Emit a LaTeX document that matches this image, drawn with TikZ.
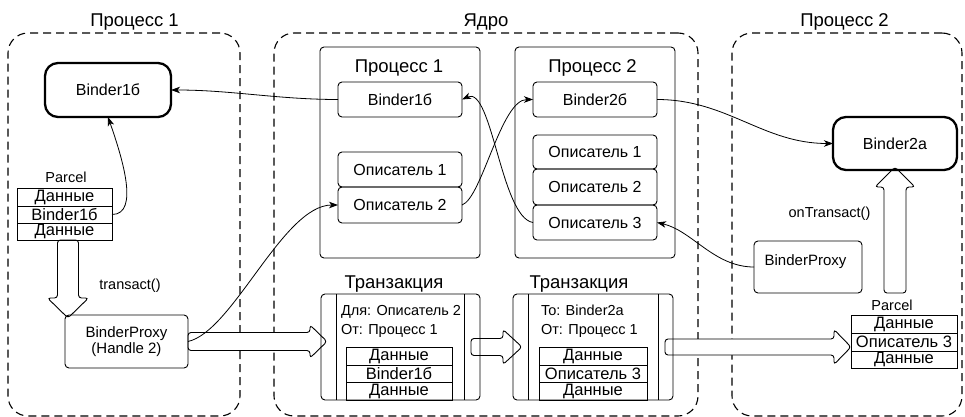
\documentclass[tikz,border=0pt]{standalone}
\usepackage{fontspec}
\setmainfont{Liberation Sans}
\usetikzlibrary{arrows.meta,calc}
\newcommand\fsz[1]{\fontsize{#1}{#1}\selectfont}
% hollow block arrow: from, to, half shaft, half head, head length
\newcommand\hollowarrow[5]{%
  \draw[harrow] let \p1=(#1), \p2=(#2),
    \n1={veclen(\x2-\x1,\y2-\y1)},
    \n2={(\x2-\x1)/veclen(\x2-\x1,\y2-\y1)},
    \n3={(\y2-\y1)/veclen(\x2-\x1,\y2-\y1)} in
    ({\x1+#3*\n3},{\y1-#3*\n2}) --
    ({\x1+(\n1-#5)*\n2+#3*\n3},{\y1+(\n1-#5)*\n3-#3*\n2}) --
    ({\x1+(\n1-#5)*\n2+#4*\n3},{\y1+(\n1-#5)*\n3-#4*\n2}) --
    (\x2,\y2) --
    ({\x1+(\n1-#5)*\n2-#4*\n3},{\y1+(\n1-#5)*\n3+#4*\n2}) --
    ({\x1+(\n1-#5)*\n2-#3*\n3},{\y1+(\n1-#5)*\n3+#3*\n2}) --
    ({\x1-#3*\n3},{\y1+#3*\n2}) -- cycle;}
\begin{document}
\begin{tikzpicture}[x=1pt,y=-1pt,
  every node/.style={inner sep=0pt, outer sep=0pt},
  title/.style={font=\fsz{18.5}, anchor=base},
  lbl/.style={font=\fsz{14.5}, anchor=base},
  dashbox/.style={draw, dash pattern=on 8pt off 5pt, line width=1.1pt, rounded corners=20pt},
  pbox/.style={draw, line width=0.9pt, rounded corners=4pt},
  ibox/.style={draw, line width=0.9pt, rounded corners=4pt, minimum width=124pt, font=\fsz{16}},
  thickbox/.style={draw, line width=2.3pt, rounded corners=13pt, font=\fsz{16}},
  proxy/.style={draw, line width=0.9pt, rounded corners=4pt, font=\fsz{15}, align=center},
  cell/.style={draw, line width=0.9pt, font=\fsz{16.5}},
  harrow/.style={draw, fill=white, line width=0.9pt, rounded corners=3pt},
  conn/.style={line width=0.8pt, -{Stealth[length=9pt,width=6.5pt,inset=2.5pt]}}
]
\useasboundingbox (0,0) rectangle (965,417);

% containers
\node[dashbox, minimum width=232pt, minimum height=383pt] (P1) at (124,224.5) {};
\node[dashbox, minimum width=424pt, minimum height=383pt] (K) at (486,224.5) {};
\node[dashbox, minimum width=230pt, minimum height=383pt] (P2) at (847,224.5) {};
\node[title] (tp1) at (134.5,27) {Процесс 1};
\node[title] (tk) at (486,27) {Ядро};
\node[title] (tp2) at (844.5,27) {Процесс 2};

% positions needed by the block arrows
\node[minimum width=123pt, minimum height=53pt] (bp1) at (126.5,341.5) {};
\node[minimum width=159pt, minimum height=106pt] (T1) at (400.5,347) {};
\node[minimum width=160pt, minimum height=106pt] (T2) at (593,347) {};
\node[minimum width=124pt, minimum height=53pt] (pb2) at (895,143.5) {};
\node[proxy, minimum width=108pt, minimum height=52pt] (bp2) at (808,267) {};
\node[cell, minimum width=95pt, minimum height=18pt] (pc1a) at (64.5,197) {Данные};
\node[cell, minimum width=95pt, minimum height=17pt] (pc1b) at (64.5,214.5) {Binder1б};
\node[minimum width=95pt, minimum height=17pt] (pc1c) at (64.5,231.5) {};
\node[cell, minimum width=106pt, minimum height=18pt] (pc2a) at (904,324) {Данные};
\node[minimum width=106pt, minimum height=18pt] (pc2b) at (904,342) {};
\node[cell, minimum width=106pt, minimum height=17pt] (pc2c) at (904,359.5) {Данные};

\coordinate (dtip) at ($(bp1.north west)+(3,3)$);
\coordinate (dtail) at (pc1c.south -| dtip);
\coordinate (a1tip) at ($(T1.west |- bp1.east)+(6,0)$);
\coordinate (a2tail) at ($(T1.east)+(-9,0)$);
\coordinate (a2tip) at ($(T2.west)+(9,0)$);
\coordinate (a3tail) at ($(T2.east)+(-8,0)$);
\coordinate (a3tip) at (pc2b.west |- T2.east);
\coordinate (utip) at ($(pb2.south)+(0,-3)$);
\coordinate (utail) at (utip |- bp2.south);

% block arrows
\hollowarrow{dtail}{dtip}{10.5}{20.5}{20}
\hollowarrow{bp1.east}{a1tip}{9}{16.5}{17}
\hollowarrow{a2tail}{a2tip}{8.5}{17.5}{19}
\hollowarrow{a3tail}{a3tip}{8}{17.5}{17}
\hollowarrow{utail}{utip}{11}{20}{20}

% boxes drawn over the arrows
\node[proxy, minimum width=123pt, minimum height=53pt] (bp1b) at (bp1) {BinderProxy\\[1pt](Handle 2)};
\node[thickbox, minimum width=124pt, minimum height=53pt] (pb2b) at (pb2) {Binder2a};
\node[cell, minimum width=95pt, minimum height=17pt] (pc1cb) at (pc1c) {Данные};
\node[cell, minimum width=106pt, minimum height=18pt] (pc2bb) at (pc2b) {Описатель 3};

% left process
\node[thickbox, minimum width=126pt, minimum height=54pt] (pb1) at (108,90) {Binder1б};
\node[lbl] (parcel1) at (66,182) {Parcel};
\node[lbl] (tr) at (130,289) {transact()};

% right process
\node[lbl] (parcel2) at (892,310) {Parcel};
\node[lbl] (ontr) at (829.5,217) {onTransact()};
\node[font=\fsz{15}, anchor=base] (bp2t) at (805.5,265) {BinderProxy};

% kernel processes
\node[pbox, minimum width=160pt, minimum height=211pt] (KP1) at (400,152.5) {};
\node[pbox, minimum width=160pt, minimum height=211pt] (KP2) at (595,152.5) {};
\node[title] (kt1) at (399,72.5) {Процесс 1};
\node[title] (kt2) at (592.5,72.5) {Процесс 2};
\node[ibox, minimum height=35pt] (kb1) at (400,99.5) {Binder1б};
\node[ibox, minimum height=35pt] (kd1) at (400,169.5) {Описатель 1};
\node[ibox, minimum height=36pt] (kd2) at (400,205) {Описатель 2};
\node[ibox, minimum height=35pt] (kb2) at (595,99.5) {Binder2б};
\node[ibox, minimum height=34pt] (ke1) at (595,152) {Описатель 1};
\node[ibox, minimum height=36pt] (ke2) at (595,187) {Описатель 2};
\node[ibox, minimum height=35pt] (ke3) at (595,222.5) {Описатель 3};

% transactions
\node[pbox, minimum width=159pt, minimum height=106pt] (T1b) at (T1) {};
\draw[line width=0.9pt] ([xshift=15pt]T1b.north west) -- ([xshift=15pt]T1b.south west);
\draw[line width=0.9pt] ([xshift=-16pt]T1b.north east) -- ([xshift=-16pt]T1b.south east);
\node[title] (tt1) at (394,288.5) {Транзакция};
\node[font=\fsz{14.5}, anchor=base west] (t1to) at (341,315) {Для: Описатель 2};
\node[font=\fsz{14.5}, anchor=base west] (t1fr) at (341,334.5) {От: Процесс 1};
\node[cell, minimum width=106pt, minimum height=18pt] (t1a) at (399,356) {Данные};
\node[cell, minimum width=106pt, minimum height=17pt] (t1b) at (399,373.5) {Binder1б};
\node[cell, minimum width=106pt, minimum height=18pt] (t1c) at (399,391) {Данные};

\node[pbox, minimum width=160pt, minimum height=106pt] (T2b) at (T2) {};
\draw[line width=0.9pt] ([xshift=15pt]T2b.north west) -- ([xshift=15pt]T2b.south west);
\draw[line width=0.9pt] ([xshift=-15pt]T2b.north east) -- ([xshift=-15pt]T2b.south east);
\node[title] (tt2) at (579,288.5) {Транзакция};
\node[font=\fsz{14.5}, anchor=base west] (t2to) at (541,315) {To: Binder2a};
\node[font=\fsz{14.5}, anchor=base west] (t2fr) at (541,334.5) {От: Процесс 1};
\node[cell, minimum width=108pt, minimum height=18pt] (t2a) at (593,356) {Данные};
\node[cell, minimum width=108pt, minimum height=17pt] (t2b) at (593,373.5) {Описатель 3};
\node[cell, minimum width=108pt, minimum height=18pt] (t2c) at (593,391) {Данные};

% connectors
\draw[conn] (kb1.west) .. controls +(-60,0) and +(60,0) .. (pb1.east);
\draw[conn] (pc1b.east) .. controls +(28,0) and +(14,40) .. (pb1.south);
\draw[conn] (bp1b.east) .. controls +(45,-10) and +(-55,0) .. (kd2.west);
\draw[conn] (kd2.east) .. controls +(20,-7) and +(-32,0) .. (kb2.west);
\draw[conn] (ke3.west) .. controls +(-32,-5) and +(30,-14) .. (kb1.east);
\draw[conn] (kb2.east) .. controls +(70,0) and +(-70,0) .. (pb2b.west);
\draw[conn] (bp2.west) .. controls +(-40,0) and +(35,8) .. (ke3.east);
\end{tikzpicture}
\end{document}
